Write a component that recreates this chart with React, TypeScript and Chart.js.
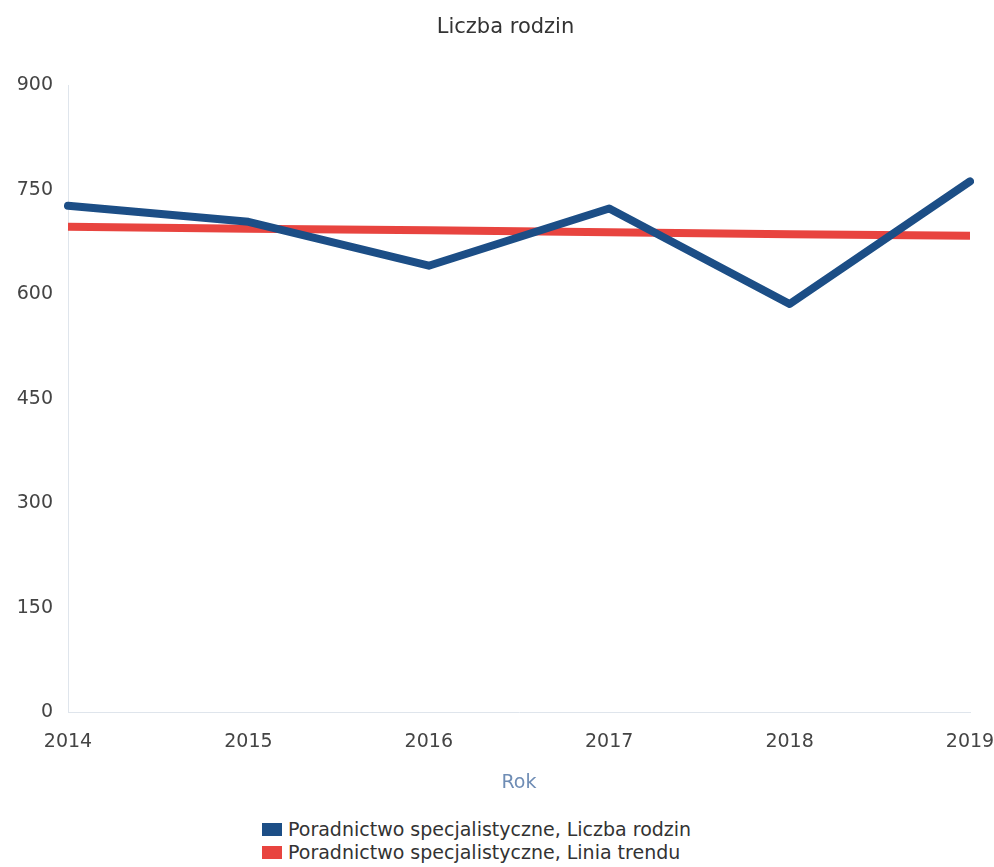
import React, { useEffect, useRef } from "react";
import { Chart, registerables } from "chart.js";

Chart.register(...registerables);

const years = ["2014", "2015", "2016", "2017", "2018", "2019"];
const liczbaRodzin = [727, 704, 641, 723, 586, 762];
const liniaTrendu = [697, 694, 692, 689, 686, 684];
const yTicks = [0, 150, 300, 450, 600, 750, 900];
const seriesNames = [
  "Poradnictwo specjalistyczne, Liczba rodzin",
  "Poradnictwo specjalistyczne, Linia trendu",
];
const BLUE = "#1c4e86";
const RED = "#e8443f";
const FONT = "DejaVu Sans";

export default function App() {
  const ref = useRef<HTMLCanvasElement | null>(null);
  useEffect(() => {
    document.body.style.margin = "0";
    const ctx = ref.current!;
    const chart = new Chart(ctx, {
      type: "line",
      data: {
        labels: years,
        datasets: [
          {
            label: seriesNames[0],
            data: liczbaRodzin,
            borderColor: BLUE,
            backgroundColor: BLUE,
            borderWidth: 8,
            pointRadius: 0,
            borderCapStyle: "round",
            borderJoinStyle: "round",
            tension: 0,
          },
          {
            label: seriesNames[1],
            data: liniaTrendu,
            borderColor: RED,
            backgroundColor: RED,
            borderWidth: 8,
            pointRadius: 0,
            tension: 0,
          },
        ],
      },
      options: {
        animation: false,
        responsive: false,
        layout: { padding: { left: 17, right: 0, top: 0, bottom: 0 } },
        plugins: {
          legend: { display: false },
          tooltip: { enabled: false },
          title: {
            display: true,
            text: "Liczba rodzin",
            color: "#333",
            font: { family: FONT, size: 21, weight: "normal" },
            padding: { top: 15, bottom: 45 },
          },
        },
        scales: {
          x: {
            offset: false,
            grid: { display: false, drawTicks: false },
            border: { display: true, color: "#dfe5ec", width: 1 },
            ticks: {
              color: "#444",
              font: { family: FONT, size: 19 },
              padding: 18,
              maxRotation: 0,
            },
            title: {
              display: true,
              text: "Rok",
              color: "#6f8db5",
              font: { family: FONT, size: 19 },
              padding: { top: 0, bottom: 0 },
            },
            afterFit: (s: any) => {
              s.paddingLeft = 0;
              s.paddingRight = 24;
            },
          },
          y: {
            min: 0,
            max: 900,
            afterBuildTicks: (axis: any) => {
              axis.ticks = yTicks.map((v) => ({ value: v }));
            },
            grid: { display: false, drawTicks: false },
            border: { display: true, color: "#dfe5ec", width: 1 },
            ticks: {
              color: "#444",
              font: { family: FONT, size: 19 },
              padding: 15,
            },
            afterFit: (s: any) => {
              s.width = 51;
            },
          },
        },
      },
    });
    return () => chart.destroy();
  }, []);

  return (
    <div style={{ position: "relative", width: 994, height: 867, background: "#fff" }}>
      <canvas ref={ref} width={994} height={794} style={{ display: "block" }} />
      <div
        style={{
          position: "absolute",
          left: 262,
          top: 818,
          fontFamily: FONT,
          fontSize: 19,
          color: "#333",
          lineHeight: "23px",
        }}
      >
        {seriesNames.map((n, i) => (
          <div key={n} style={{ display: "flex", alignItems: "center" }}>
            <span
              style={{
                display: "inline-block",
                width: 20,
                height: 13,
                background: i === 0 ? BLUE : RED,
                marginRight: 6,
              }}
            />
            <span>{n}</span>
          </div>
        ))}
      </div>
    </div>
  );
}
